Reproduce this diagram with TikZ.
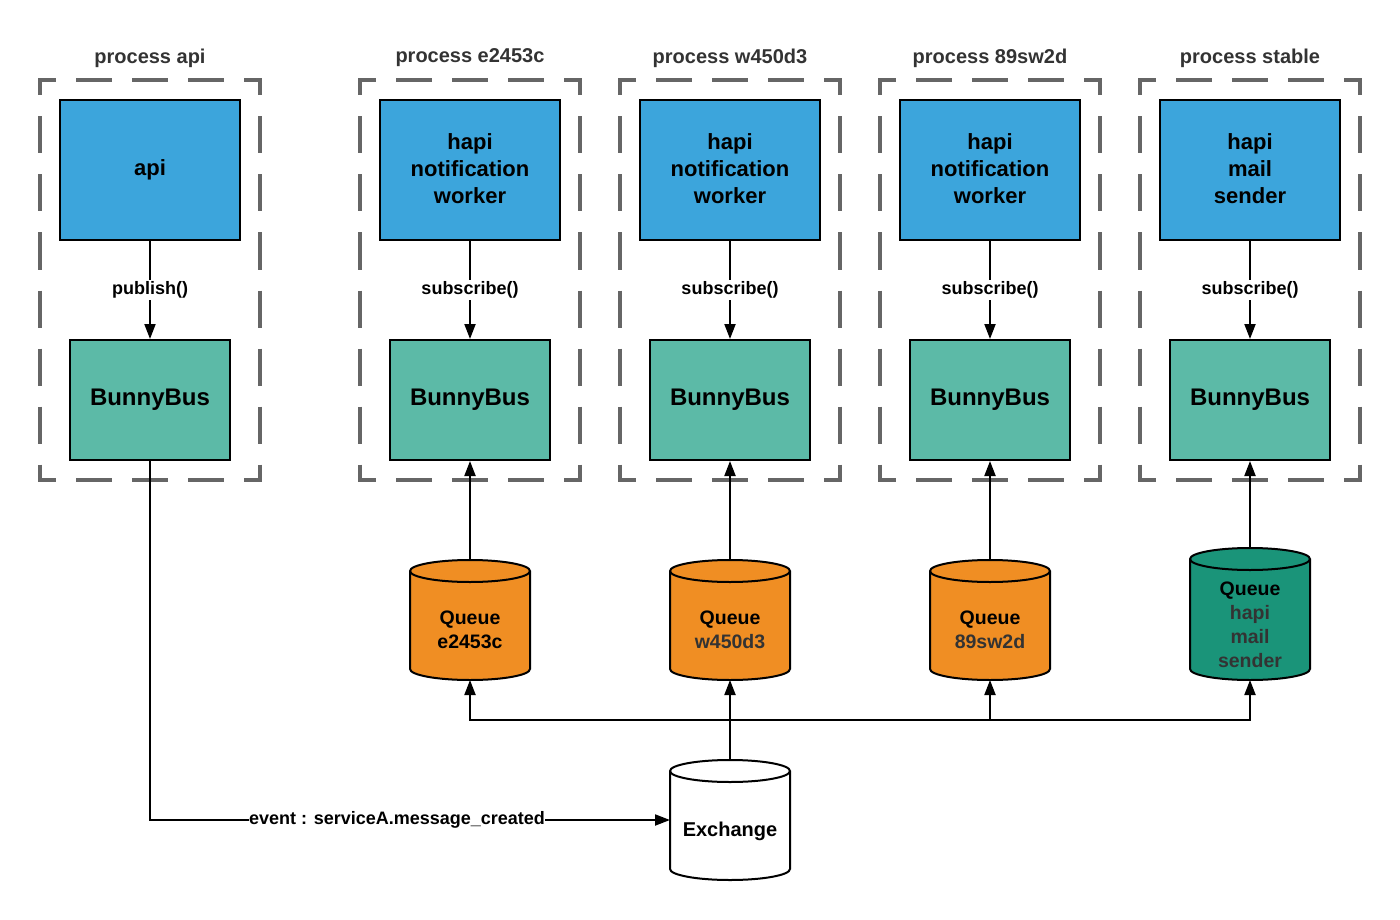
\documentclass[tikz,border=0pt]{standalone}
\usepackage{fontspec}
\setmainfont{Liberation Sans}
\usetikzlibrary{arrows.meta}
\definecolor{procblue}{HTML}{3CA5DC}
\definecolor{busgreen}{HTML}{5CBAA7}
\definecolor{qorange}{HTML}{F08E23}
\definecolor{qteal}{HTML}{1A9479}
\definecolor{dashgray}{HTML}{666666}
\definecolor{titlegray}{HTML}{333333}
\tikzset{
  hside/.style={draw=dashgray, line width=3.5pt, dash pattern=on 36pt off 20pt, dash phase=18.25pt},
  vside/.style={draw=dashgray, line width=3.5pt, dash pattern=on 37pt off 21pt, dash phase=19.75pt},
  comp/.style={draw=black, line width=2pt, fill=procblue, minimum width=180pt, minimum height=140pt, inner sep=0pt, align=center, font=\bfseries\fontsize{22}{27}\selectfont},
  bus/.style={draw=black, line width=2pt, fill=busgreen, minimum width=160pt, minimum height=120pt, inner sep=0pt, font=\bfseries\fontsize{24}{29}\selectfont},
  title/.style={text=titlegray, inner sep=0pt, font=\bfseries\fontsize{20}{24}\selectfont},
  lbl/.style={fill=white, inner sep=1.5pt, font=\bfseries\fontsize{18}{22}\selectfont},
  conn/.style={line width=2pt, -{Triangle[length=15pt,width=11pt]}},
  cylbox/.style={minimum width=120pt, inner sep=0pt, outer sep=0pt},
  cyltext/.style={inner sep=0pt, align=center, font=\bfseries\fontsize{19.5}{24}\selectfont},
}
\newcommand\procbox[1]{%
  \draw[hside] (#1-111.75,80) -- (#1+111.75,80);
  \draw[hside] (#1-111.75,480) -- (#1+111.75,480);
  \draw[vside] (#1-110,78.25) -- (#1-110,481.75);
  \draw[vside] (#1+110,78.25) -- (#1+110,481.75);}
\newcommand\drawcyl[4]{%
  \filldraw[line width=2pt, fill=#4] (#1-60,#2+11) -- (#1-60,#3-11)
    arc[start angle=180,end angle=360,x radius=60pt,y radius=11pt]
    -- (#1+60,#2+11)
    arc[start angle=0,end angle=180,x radius=60pt,y radius=11pt] -- cycle;
  \draw[line width=2pt] (#1-60,#2+11) arc[start angle=180,end angle=360,x radius=60pt,y radius=11pt];}
\begin{document}
\begin{tikzpicture}[x=1pt,y=-1pt]
\useasboundingbox (0,0) rectangle (1400,920);
% process containers
\procbox{150}\procbox{470}\procbox{730}\procbox{990}\procbox{1250}
\node[title] (t1) at (150,58) {process api};
\node[title] (t2) at (470,58) {process e2453c};
\node[title] (t3) at (730,58) {process w450d3};
\node[title] (t4) at (990,58) {process 89sw2d};
\node[title] (t5) at (1250,58) {process stable};
% components
\node[comp] (c1) at (150,170) {api};
\node[comp, text depth=3pt] (c2) at (470,170) {hapi\\notification\\worker};
\node[comp, text depth=3pt] (c3) at (730,170) {hapi\\notification\\worker};
\node[comp, text depth=3pt] (c4) at (990,170) {hapi\\notification\\worker};
\node[comp, text depth=3pt] (c5) at (1250,170) {hapi\\mail\\sender};
% bunnybus
\node[bus] (b1) at (150,400) {BunnyBus};
\node[bus] (b2) at (470,400) {BunnyBus};
\node[bus] (b3) at (730,400) {BunnyBus};
\node[bus] (b4) at (990,400) {BunnyBus};
\node[bus] (b5) at (1250,400) {BunnyBus};
% cylinders
\drawcyl{470}{560}{680}{qorange}
\drawcyl{730}{560}{680}{qorange}
\drawcyl{990}{560}{680}{qorange}
\drawcyl{1250}{548}{680}{qteal}
\drawcyl{730}{760}{880}{white}
\node[cylbox, minimum height=120pt] (qa) at (470,620) {};
\node[cylbox, minimum height=120pt] (qb) at (730,620) {};
\node[cylbox, minimum height=120pt] (qc) at (990,620) {};
\node[cylbox, minimum height=132pt] (qd) at (1250,614) {};
\node[cylbox, minimum height=120pt] (ex) at (730,820) {};
\node[cyltext] (qat) at (470,630) {Queue\\e2453c};
\node[cyltext] (qbt) at (730,630) {Queue\\\textcolor{titlegray}{w450d3}};
\node[cyltext] (qct) at (990,630) {Queue\\\textcolor{titlegray}{89sw2d}};
\node[cyltext] (qdt) at (1250,625) {Queue\\\textcolor{titlegray}{hapi}\\\textcolor{titlegray}{mail}\\\textcolor{titlegray}{sender}};
\node[cyltext, font=\bfseries\fontsize{20}{24}\selectfont] (ext) at (730,831) {Exchange};
% connectors
\draw[conn] (c1.south) -- node[lbl] (l1) {publish()} (b1.north);
\draw[conn] (c2.south) -- node[lbl] (l2) {subscribe()} (b2.north);
\draw[conn] (c3.south) -- node[lbl] (l3) {subscribe()} (b3.north);
\draw[conn] (c4.south) -- node[lbl] (l4) {subscribe()} (b4.north);
\draw[conn] (c5.south) -- node[lbl] (l5) {subscribe()} (b5.north);
\draw[conn] (qa.north) -- (b2.south);
\draw[conn] (qb.north) -- (b3.south);
\draw[conn] (qc.north) -- (b4.south);
\draw[conn] (qd.north) -- (b5.south);
\draw[conn] (b1.south) |- node[lbl, pos=0.7375, inner sep=0.5pt] (le) {event : serviceA.message\_created} (ex.west);
\draw[conn] (ex.north) -- (qb.south);
\draw[conn] (ex.north) -- ++(0,-40) -| (qa.south);
\draw[conn] (ex.north) -- ++(0,-40) -| (qc.south);
\draw[conn] (ex.north) -- ++(0,-40) -| (qd.south);
\end{tikzpicture}
\end{document}
